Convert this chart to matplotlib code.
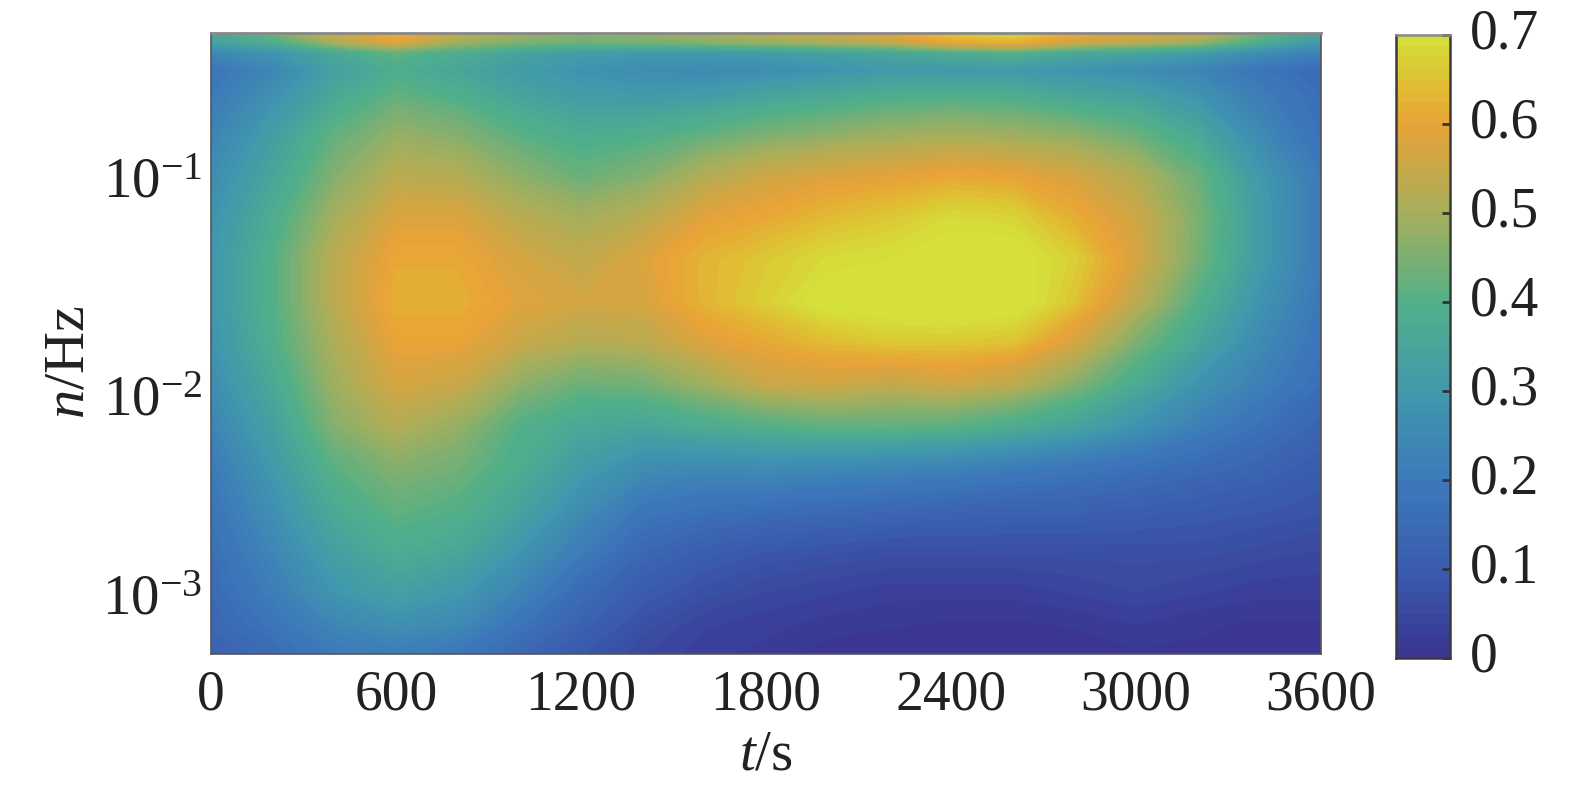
import numpy as np
import matplotlib
matplotlib.use("Agg")
import matplotlib.pyplot as plt
from matplotlib.colors import LinearSegmentedColormap
from matplotlib.transforms import ScaledTranslation

plt.rcParams['font.family'] = ['Liberation Serif', 'DejaVu Serif']
plt.rcParams['mathtext.fontset'] = 'custom'
plt.rcParams['mathtext.rm'] = 'Liberation Serif'
plt.rcParams['mathtext.it'] = 'Liberation Serif:italic'
plt.rcParams['mathtext.bf'] = 'Liberation Serif:bold'

t_values = [0, 200, 400, 600, 800, 1000, 1200, 1400, 1600, 1800, 2000, 2200, 2400, 2600, 2800, 3000, 3200, 3400, 3600]
n_values = [0.5, 0.45, 0.40, 0.33, 0.25, 0.16, 0.10, 0.063, 0.04, 0.025, 0.016, 0.01, 0.0063, 0.004, 0.0025, 0.0016, 0.001, 0.0007, 0.0005]
coherence = [
 [.36,.44,.56,.63,.54,.49,.47,.48,.50,.53,.56,.60,.67,.69,.62,.59,.56,.44,.34],
 [.33,.38,.50,.58,.49,.45,.43,.44,.46,.48,.50,.53,.60,.62,.55,.52,.48,.38,.30],
 [.24,.28,.36,.42,.38,.34,.31,.30,.30,.31,.33,.35,.38,.40,.36,.34,.31,.26,.22],
 [.18,.24,.33,.38,.35,.31,.28,.26,.25,.26,.28,.30,.30,.30,.28,.26,.23,.18,.15],
 [.20,.27,.36,.42,.39,.34,.31,.30,.31,.34,.36,.38,.39,.38,.35,.33,.28,.21,.16],
 [.23,.32,.42,.48,.46,.41,.38,.39,.42,.45,.47,.49,.50,.49,.47,.43,.36,.25,.17],
 [.26,.35,.46,.53,.52,.47,.43,.46,.52,.56,.58,.59,.61,.60,.57,.52,.43,.30,.20],
 [.28,.38,.50,.58,.58,.53,.50,.53,.59,.61,.64,.66,.69,.68,.62,.56,.45,.31,.20],
 [.29,.40,.53,.61,.61,.57,.54,.58,.63,.66,.69,.70,.72,.72,.67,.57,.44,.31,.20],
 [.29,.40,.53,.62,.62,.585,.565,.57,.63,.67,.72,.73,.74,.73,.65,.53,.40,.28,.19],
 [.28,.39,.51,.60,.60,.55,.52,.53,.58,.61,.64,.66,.66,.65,.57,.45,.35,.25,.18],
 [.26,.36,.49,.57,.55,.47,.43,.44,.49,.55,.56,.54,.56,.53,.46,.37,.28,.22,.16],
 [.23,.33,.46,.52,.48,.40,.36,.35,.38,.40,.42,.42,.41,.38,.34,.28,.22,.17,.13],
 [.20,.30,.41,.46,.44,.38,.31,.26,.25,.26,.25,.24,.23,.21,.19,.17,.15,.13,.10],
 [.18,.27,.37,.42,.40,.34,.26,.19,.17,.16,.15,.14,.13,.12,.12,.11,.10,.09,.08],
 [.16,.24,.33,.38,.36,.29,.21,.14,.11,.09,.08,.07,.07,.07,.07,.07,.07,.06,.05],
 [.15,.21,.29,.33,.30,.23,.15,.10,.07,.05,.04,.03,.03,.03,.04,.05,.04,.03,.03],
 [.14,.18,.24,.27,.25,.18,.12,.07,.04,.03,.02,.015,.01,.01,.015,.025,.015,.01,.01],
 [.12,.15,.20,.21,.19,.14,.09,.05,.03,.02,.005,0,0,0,0,.01,.01,.005,0],
]
x_ticks = [0, 600, 1200, 1800, 2400, 3000, 3600]
y_ticks = [1e-1, 1e-2, 1e-3]
y_labels = [r'$\mathrm{10^{-1}}$', r'$\mathrm{10^{-2}}$', r'$\mathrm{10^{-3}}$']
cbar_ticks = [0, .1, .2, .3, .4, .5, .6, .7]
cbar_labels = ['0', '0.1', '0.2', '0.3', '0.4', '0.5', '0.6', '0.7']

cmap = LinearSegmentedColormap.from_list('parula_like', [
    (0.0 / .7, '#3A3490'), (0.1 / .7, '#3A5DAE'), (0.2 / .7, '#3C7ABA'),
    (0.3 / .7, '#4199AC'), (0.4 / .7, '#52B088'), (0.5 / .7, '#A5AE5C'),
    (0.6 / .7, '#E8A237'), (0.65 / .7, '#DFC033'), (1.0, '#D5E03B')], N=256)

W, H = 1575, 787
fig = plt.figure(figsize=(W / 100, H / 100), dpi=100)
ax = fig.add_axes([211 / W, 1 - 654 / H, 1110 / W, 621 / H])
levels = np.linspace(0, 0.7, 57)
ax.contourf(t_values, n_values, np.array(coherence), levels=levels, cmap=cmap, extend='both')
ax.set_yscale('log')
ax.set_xlim(0, 3600)
ax.set_ylim(5e-4, 0.5)
ax.minorticks_off()
ax.set_xticks(x_ticks, [str(v) for v in x_ticks])
ax.set_yticks(y_ticks, y_labels)
ax.tick_params(axis='x', length=0, labelsize=40, labelcolor='#222222', pad=11)
ax.tick_params(axis='y', length=0, labelsize=41, labelcolor='#222222', pad=6)
labs = ax.get_yticklabels()
labs[1].set_transform(labs[1].get_transform() + ScaledTranslation(0, -8 / 72, fig.dpi_scale_trans))
labs[2].set_transform(labs[2].get_transform() + ScaledTranslation(0, -2 / 72, fig.dpi_scale_trans))
for s in ax.spines.values():
    s.set_color('#555555')
    s.set_linewidth(1.2)
ax.spines['top'].set_color('#888888')
ax.spines['top'].set_linewidth(2)
ax.set_xlabel(r'$\mathit{t}$/s', fontsize=41, color='#222222', labelpad=6)
ax.set_ylabel(r'$\mathit{n}$/Hz', fontsize=42, color='#222222')
ax.yaxis.set_label_coords(-0.1045, 0.47)

cax = fig.add_axes([1396 / W, 1 - 658 / H, 54 / W, 623 / H])
cax.contourf([0, 1], levels, np.column_stack([levels, levels]), levels=levels, cmap=cmap)
cax.set_xticks([])
cax.yaxis.tick_right()
cax.set_yticks(cbar_ticks, cbar_labels)
cax.tick_params(axis='y', direction='in', length=6, width=2, color='#333333',
                labelsize=40, labelcolor='#222222', pad=14)
for lab in cax.get_yticklabels():
    lab.set_transform(lab.get_transform() + ScaledTranslation(0, 4.5 / 72, fig.dpi_scale_trans))
for s in cax.spines.values():
    s.set_color('#3a3a3a')
    s.set_linewidth(1.8)
cax.spines['top'].set_color('#888888')

fig.savefig('out.png', dpi=100)
